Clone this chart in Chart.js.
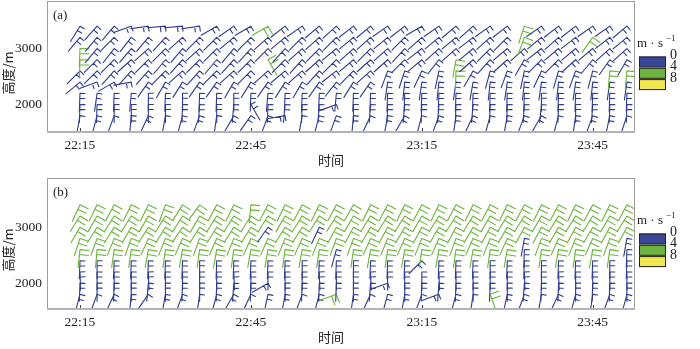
<!DOCTYPE html>
<html lang="zh">
<head>
<meta charset="UTF-8">
<title>风羽图</title>
<script src="https://cdn.jsdelivr.net/npm/chart.js"></script>
<style>
    body { margin: 0; background: #fff; }
    canvas { position: absolute; left: 0; }
    #chartA { top: 0; }
    #chartB { top: 175px; }
</style>
</head>
<body>
<canvas id="chartA" width="700" height="175"></canvas>
<canvas id="chartB" width="700" height="174"></canvas>
<script>
// heights of the barbs (m), bottom to top
const heights = [1800, 2000, 2200, 2400, 2600, 2800, 3000, 3200, 3400];
// minutes after 22:00, one column every 3 min
const times = [15, 18, 21, 24, 27, 30, 33, 36, 39, 42, 45, 48, 51, 54, 57, 60, 63, 66, 69, 72, 75, 78, 81, 84, 87, 90, 93, 96, 99, 102, 105, 108, 111];
const tickValues = [15, 45, 75, 105];
const tickLabels = ['22:15', '22:45', '23:15', '23:45'];
const yTicks = [2000, 3000];
const legendLabels = ['0', '4', '8'];

// (a) wind direction (deg) per column, bottom to top
const dirA = [
    "190 182 182 230 225 182 182 220 212",
    "195 182 188 250 225 225 220 220 222",
    "200 180 182 240 222 225 218 225 220",
    "185 180 185 260 222 228 220 218 250",
    "205 180 180 215 222 225 228 220 262",
    "190 180 182 210 225 220 225 222 265",
    "195 182 180 212 228 222 220 228 265",
    "200 184 182 215 222 225 228 225 262",
    "188 180 182 215 225 220 225 225 240",
    "210 185 180 210 228 222 220 230 235",
    "215 150 182 212 225 225 222 225 240",
    "200 182 185 215 228 150 225 228 240",
    "260 185 182 212 230 225 222 230 232",
    "190 182 182 210 228 222 228 225 235",
    "195 184 182 215 222 228 225 228 230",
    "200 250 185 218 232 225 230 225 228",
    "185 180 182 212 225 230 228 230 232",
    "205 184 182 215 228 228 225 228 230",
    "190 182 182 188 200 228 228 230 235",
    "210 185 182 186 198 225 222 225 232",
    "195 182 182 188 205 230 232 228 240",
    "200 184 182 186 192 218 228 230 235",
    "188 182 182 188 182 190 228 230 230",
    "205 185 182 190 210 228 230 232 228",
    "195 182 182 186 195 222 225 228 235",
    "190 182 182 188 200 228 230 225 232",
    "200 184 182 186 192 210 228 200 198",
    "210 186 180 188 205 225 232 230 235",
    "195 182 182 186 196 225 230 228 232",
    "188 180 182 188 200 228 230 232 232",
    "200 184 182 186 195 220 230 215 235",
    "192 182 182 188 185 215 228 232 235",
    "198 182 182 188 185 210 228 230 230"
];
// (a) wind speed (m/s) per column, one digit per height
const spdA = [
    "233334433", "333333333", "233333333", "333333333", "333333333", "233333333",
    "333333333", "333333333", "233333333", "333333333", "333333333", "333334334",
    "333333333", "233333333", "333333333", "333333333", "333333333", "233333333",
    "333333333", "333333333", "233333333", "333333333", "333344333", "333333333",
    "233333333", "333333333", "333333344", "333333333", "233333333", "333333333",
    "333333343", "333343333", "233343333"
];

// (b) wind direction (deg) per column, bottom to top
const dirB = [
    "195 182 178 182 186 198 210 212 205",
    "200 180 180 180 185 200 212 210 206",
    "205 182 180 182 188 202 212 212 208",
    "185 180 180 182 188 200 210 212 206",
    "215 185 178 182 190 204 212 210 206",
    "190 180 180 182 188 202 212 212 200",
    "200 182 180 182 190 204 214 212 212",
    "188 180 180 180 188 200 212 210 216",
    "195 182 180 182 190 204 212 212 208",
    "210 184 178 182 188 202 212 212 206",
    "205 182 180 182 190 204 212 212 185",
    "192 240 180 182 190 204 215 212 208",
    "190 180 180 182 188 202 212 210 206",
    "200 182 180 180 190 204 212 212 208",
    "195 182 178 182 188 202 205 212 206",
    "250 182 180 182 195 200 208 212 208",
    "188 180 180 180 188 200 208 210 210",
    "205 184 178 182 190 204 210 212 206",
    "195 250 180 182 188 202 208 212 208",
    "190 180 180 182 190 204 210 212 206",
    "200 182 180 225 188 202 208 210 208",
    "250 184 178 182 190 204 210 212 206",
    "195 182 180 182 188 200 208 212 208",
    "188 180 180 182 190 204 210 212 206",
    "160 182 180 180 188 202 208 210 208",
    "192 180 180 182 190 204 210 212 206",
    "200 184 178 182 182 190 208 212 208",
    "190 182 180 180 188 200 208 210 206",
    "205 182 178 182 190 204 210 212 208",
    "195 180 180 182 188 202 208 212 206",
    "188 182 180 182 190 204 210 212 208",
    "200 182 180 180 188 200 208 210 206",
    "195 180 180 182 182 190 208 212 208"
];
// (b) wind speed (m/s) per column
const spdB = [
    "333344444", "233344444", "333344444", "333344444", "233344444", "333344444",
    "333344444", "233344444", "333344444", "333344444", "233344444", "333344344",
    "333344444", "233344444", "333344344", "433334444", "333344444", "233344444",
    "333344444", "333344444", "233344444", "333344444", "333344444", "233344444",
    "433344444", "333344444", "333333444", "233344444", "333344444", "333344444",
    "233344444", "333344444", "333333444"
];

const blue = '#2f3b8e';
const green = '#6cb43c';
const yellow = '#eee455';
const legendColors = ['#3a4797', '#6db33f', '#f0e650'];

function barbColor(s) {
    if (s < 4) return blue;
    if (s < 8) return green;
    return yellow;
}

// the point sits at the feather end, the staff runs toward where the wind comes from
function drawBarb(ctx, x, y, dir, spd) {
    const L = 18;
    const r = dir * Math.PI / 180;
    const sx = Math.sin(r), sy = -Math.cos(r);
    const fx = sy, fy = -sx;
    const flen = spd < 4 ? 5 : 9;
    const n = Math.max(1, Math.round(spd / 2));
    ctx.strokeStyle = barbColor(spd);
    ctx.beginPath();
    ctx.moveTo(x, y);
    ctx.lineTo(x + sx * L, y + sy * L);
    for (let i = 0; i < n; i++) {
        const bx = x + sx * i * 5, by = y + sy * i * 5;
        ctx.moveTo(bx, by);
        ctx.lineTo(bx + fx * flen, by + fy * flen);
    }
    ctx.stroke();
}

const barbPlugin = {
    id: 'barbs',
    afterDatasetsDraw(chart) {
        const ctx = chart.ctx;
        const a = chart.chartArea;
        const meta = chart.getDatasetMeta(0);
        const pts = chart.data.datasets[0].data;
        ctx.save();
        ctx.beginPath();
        ctx.rect(a.left, a.top, a.right - a.left, a.bottom - a.top);
        ctx.clip();
        ctx.lineWidth = 1.1;
        ctx.lineCap = 'round';
        meta.data.forEach((el, i) => drawBarb(ctx, el.x, el.y, pts[i].d, pts[i].s));
        ctx.restore();
    },
    afterDraw(chart) {
        const ctx = chart.ctx;
        const a = chart.chartArea;
        const xs = chart.scales.x;
        const ys = chart.scales.y;
        const opts = chart.options.plugins.barbs;
        ctx.save();
        // frame
        ctx.strokeStyle = '#9d9d9d';
        ctx.lineWidth = 1;
        ctx.strokeRect(a.left + 0.5, a.top + 0.5, a.right - a.left - 1, a.bottom - a.top - 1);
        ctx.strokeStyle = '#b4b4b4';
        ctx.lineWidth = 2;
        ctx.beginPath();
        ctx.moveTo(a.left, a.bottom - 1);
        ctx.lineTo(a.right, a.bottom - 1);
        ctx.stroke();
        // small inner ticks
        ctx.strokeStyle = '#444';
        ctx.lineWidth = 1;
        tickValues.forEach(v => {
            const px = Math.round(xs.getPixelForValue(v)) + 0.5;
            ctx.beginPath();
            ctx.moveTo(px, a.bottom - 2);
            ctx.lineTo(px, a.bottom - 5);
            ctx.stroke();
        });
        // y tick labels
        ctx.fillStyle = '#222';
        ctx.font = '13.5px "Liberation Serif"';
        ctx.textAlign = 'right';
        ctx.textBaseline = 'middle';
        yTicks.forEach(v => ctx.fillText(String(v), a.left - 5, ys.getPixelForValue(v)));
        // texts
        ctx.font = '13px "Liberation Serif"';
        ctx.textAlign = 'left';
        ctx.fillText(opts.panel, a.left + 6, a.top + 15);
        ctx.font = '13px "Noto Sans CJK SC"';
        ctx.textAlign = 'center';
        ctx.fillText('时间', 331, a.bottom + 27);
        ctx.save();
        ctx.translate(8, a.top + 72);
        ctx.rotate(-Math.PI / 2);
        ctx.fillText('高度/m', 0, 0);
        ctx.restore();
        // colour bar
        const lx = a.right + 4;
        ctx.font = '13px "Liberation Serif"';
        ctx.textAlign = 'left';
        ctx.fillText('m · s', lx - 2, a.top + 43);
        ctx.font = '9px "Liberation Serif"';
        ctx.fillText('−1', lx + 27, a.top + 38);
        ctx.font = '14px "Liberation Serif"';
        legendColors.forEach((c, k) => {
            const ty = a.top + 55.5 + k * 11.3;
            ctx.fillStyle = c;
            ctx.fillRect(lx, ty, 27, 10.6);
            ctx.strokeStyle = '#222';
            ctx.lineWidth = 1;
            ctx.strokeRect(lx + 0.5, ty + 0.5, 26, 10);
            ctx.fillStyle = '#222';
            ctx.fillText(legendLabels[k], lx + 31, ty - 1);
        });
        ctx.restore();
    }
};

function makeChart(id, dirs, spds, panel, yMin, yMax, topPad, xHeight) {
    const points = [];
    times.forEach((t, c) => {
        const d = dirs[c].split(' ').map(Number);
        const s = spds[c].split('').map(Number);
        heights.forEach((h, k) => points.push({ x: t, y: h, d: d[k], s: s[k] }));
    });
    return new Chart(document.getElementById(id), {
        type: 'scatter',
        data: { datasets: [{ data: points, pointRadius: 0, pointHoverRadius: 0, borderWidth: 0 }] },
        options: {
            responsive: false,
            animation: false,
            events: [],
            layout: { autoPadding: false, padding: { top: topPad, right: 65, left: 0, bottom: 0 } },
            plugins: {
                legend: { display: false },
                tooltip: { enabled: false },
                barbs: { panel: panel }
            },
            scales: {
                x: {
                    type: 'linear',
                    min: 9.21,
                    max: 112.42,
                    afterBuildTicks: s => { s.ticks = tickValues.map(v => ({ value: v })); },
                    ticks: {
                        callback: v => tickLabels[tickValues.indexOf(v)],
                        font: { family: 'Liberation Serif', size: 13.5 },
                        color: '#222',
                        padding: 4,
                        maxRotation: 0,
                        autoSkip: false
                    },
                    grid: { display: false, drawTicks: false },
                    border: { display: false },
                    afterFit: s => { s.height = xHeight; }
                },
                y: {
                    min: yMin,
                    max: yMax,
                    ticks: { display: false },
                    grid: { display: false, drawTicks: false },
                    border: { display: false },
                    afterFit: s => { s.width = 47; }
                }
            }
        },
        plugins: [barbPlugin]
    });
}

makeChart('chartA', dirA, spdA, '(a)', 1490, 3850, 1, 42);
makeChart('chartB', dirB, spdB, '(b)', 1520, 3880, 3, 39);
</script>
</body>
</html>
